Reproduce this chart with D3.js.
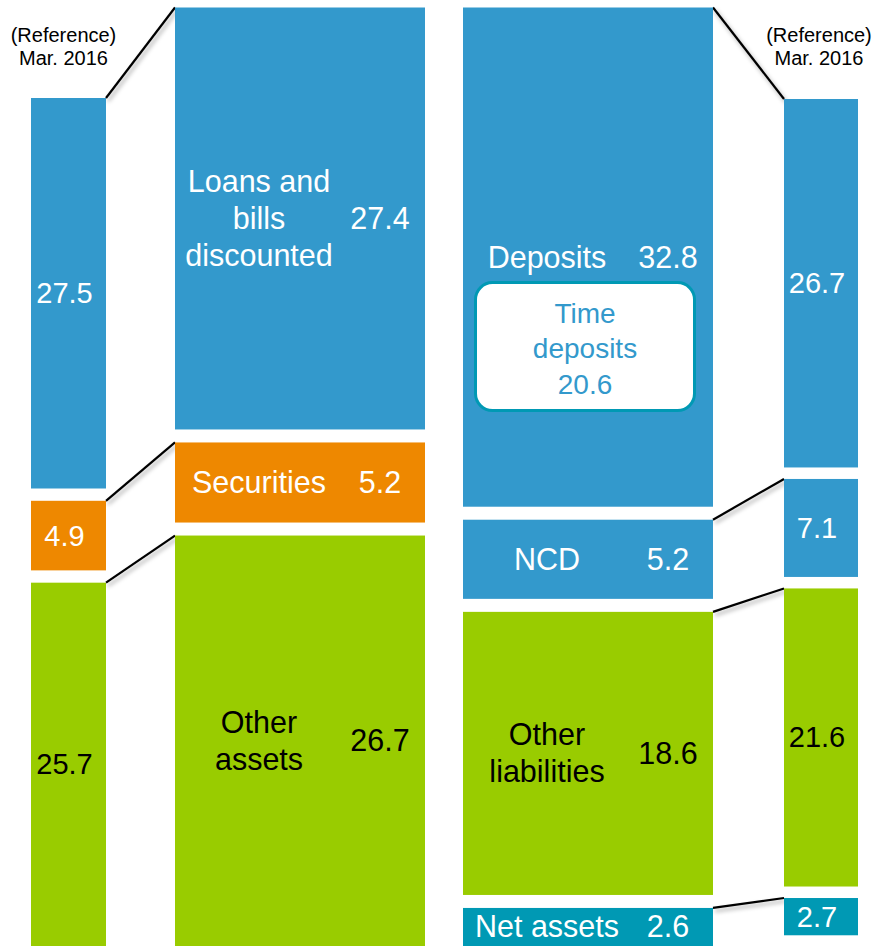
<!DOCTYPE html>
<html>
<head>
<meta charset="utf-8">
<script src="https://cdn.jsdelivr.net/npm/d3@7"></script>
<style>
  body { margin: 0; background: #fff; }
  svg { display: block; font-family: "Liberation Sans", Arial, sans-serif; }
</style>
</head>
<body>
<svg id="chart"></svg>
<script>
// data (trillion yen)
const assetLabels = [["Loans and", "bills", "discounted"], ["Securities"], ["Other", "assets"]];
const assetValues = [27.4, 5.2, 26.7];
const assetRefValues = [27.5, 4.9, 25.7];
const liabLabels = [["Deposits"], ["NCD"], ["Other", "liabilities"], ["Net assets"]];
const liabValues = [32.8, 5.2, 18.6, 2.6];
const liabRefValues = [26.7, 7.1, 21.6, 2.7];
const timeDepositLines = ["Time", "deposits"];
const timeDepositValue = 20.6;
const refHeader = ["(Reference)", "Mar. 2016"];

const assetColors = ["#3399cc", "#ee8800", "#99cc00"];
const liabColors = ["#3399cc", "#3399cc", "#99cc00", "#0099b4"];

const W = 872, H = 946;
const svg = d3.select("#chart").attr("width", W).attr("height", H);

const defs = svg.append("defs");
defs.append("filter").attr("id", "shadow")
    .attr("x", "-20%").attr("y", "-20%").attr("width", "140%").attr("height", "160%")
  .append("feDropShadow")
    .attr("dx", 2).attr("dy", 3).attr("stdDeviation", 2)
    .attr("flood-color", "#000").attr("flood-opacity", 0.35);

// build stacked segments for one column through a linear scale
function stack(values, top, pxPerUnit, gap) {
    const total = d3.sum(values);
    const y = d3.scaleLinear().domain([0, total]).range([top, top + total * pxPerUnit]);
    const cum = d3.cumsum(values);
    return values.map((v, i) => {
        const y0 = y(cum[i] - v) + i * gap;
        const y1 = y(cum[i]) + i * gap;
        return {value: v, i: i, y0: y0, y1: y1};
    });
}

const cols = {
    refL:  {x: 31,  w: 75},
    asset: {x: 175, w: 250},
    liab:  {x: 463, w: 250},
    refR:  {x: 784, w: 74}
};

const refLSeg = stack(assetRefValues, 98, 14.2, 12.3);
const assetSeg = stack(assetValues, 7.5, 15.4, 13);
const liabSeg = stack(liabValues, 7.5, 15.22, 13);
const refRSeg = stack(liabRefValues, 99, 13.8, 11.5);

const visMid = d => (d.y0 + Math.min(d.y1, H)) / 2;
const lineH = 37;

function textColor(c) { return c === "#99cc00" ? "#000" : "#fff"; }

// connector lines (drawn first so bars sit on top)
const conn = svg.append("g").attr("filter", "url(#shadow)");
refLSeg.forEach((d, i) => {
    conn.append("line")
        .attr("x1", cols.refL.x + cols.refL.w).attr("y1", d.y0)
        .attr("x2", cols.asset.x).attr("y2", assetSeg[i].y0)
        .attr("stroke", "#000").attr("stroke-width", 2.2);
});
refRSeg.forEach((d, i) => {
    conn.append("line")
        .attr("x1", cols.liab.x + cols.liab.w).attr("y1", liabSeg[i].y0)
        .attr("x2", cols.refR.x).attr("y2", d.y0)
        .attr("stroke", "#000").attr("stroke-width", 2.2);
});

// main columns
function drawMain(seg, col, labels, colors) {
    const g = svg.append("g");
    g.selectAll("rect").data(seg).join("rect")
        .attr("x", col.x).attr("y", d => d.y0)
        .attr("width", col.w).attr("height", d => d.y1 - d.y0)
        .attr("fill", d => colors[d.i]);

    seg.forEach(d => {
        const lines = labels[d.i];
        const mid = visMid(d);
        const fill = textColor(colors[d.i]);
        const t = g.append("text")
            .attr("text-anchor", "middle")
            .attr("font-size", 30.5)
            .attr("fill", fill);
        lines.forEach((ln, k) => {
            t.append("tspan")
                .attr("x", col.x + 84)
                .attr("y", mid + 10.5 + (k - (lines.length - 1) / 2) * lineH)
                .text(ln);
        });
        g.append("text")
            .attr("x", col.x + 205).attr("y", mid + 10.5)
            .attr("text-anchor", "middle")
            .attr("font-size", 30.5)
            .attr("fill", fill)
            .text(d3.format(".1f")(d.value));
    });
    return g;
}

drawMain(assetSeg, cols.asset, assetLabels, assetColors);
const liabG = drawMain(liabSeg, cols.liab, liabLabels, liabColors);

// time-deposit box inside the deposits bar
const dep = liabSeg[0];
const boxTop = visMid(dep) + 25.5;
liabG.append("rect")
    .attr("x", 475.5).attr("y", boxTop)
    .attr("width", 219).attr("height", 128)
    .attr("rx", 17).attr("ry", 17)
    .attr("fill", "#fff")
    .attr("stroke", "#0099b4").attr("stroke-width", 3);
const tdText = liabG.append("text")
    .attr("text-anchor", "middle").attr("font-size", 28).attr("fill", "#3399cc");
timeDepositLines.concat([d3.format(".1f")(timeDepositValue)]).forEach((ln, k) => {
    tdText.append("tspan")
        .attr("x", 585).attr("y", boxTop + 40 + k * 35.5)
        .text(ln);
});

// reference columns
function drawRef(seg, col, colors, headerCx) {
    const g = svg.append("g");
    g.selectAll("rect").data(seg).join("rect")
        .attr("x", col.x).attr("y", d => d.y0)
        .attr("width", col.w).attr("height", d => d.y1 - d.y0)
        .attr("fill", d => colors[d.i]);
    g.selectAll("text.val").data(seg).join("text")
        .attr("class", "val")
        .attr("x", col.x + col.w / 2 - 4)
        .attr("y", d => visMid(d) + 10)
        .attr("text-anchor", "middle")
        .attr("font-size", 29)
        .attr("fill", d => textColor(colors[d.i]))
        .text(d => d3.format(".1f")(d.value));
    const h = g.append("text")
        .attr("text-anchor", "middle").attr("font-size", 20).attr("fill", "#000");
    refHeader.forEach((ln, k) => {
        h.append("tspan").attr("x", headerCx).attr("y", 41.5 + k * 23.5).text(ln);
    });
}

drawRef(refLSeg, cols.refL, assetColors, 63.5);
drawRef(refRSeg, cols.refR, liabColors, 819);
</script>
</body>
</html>
